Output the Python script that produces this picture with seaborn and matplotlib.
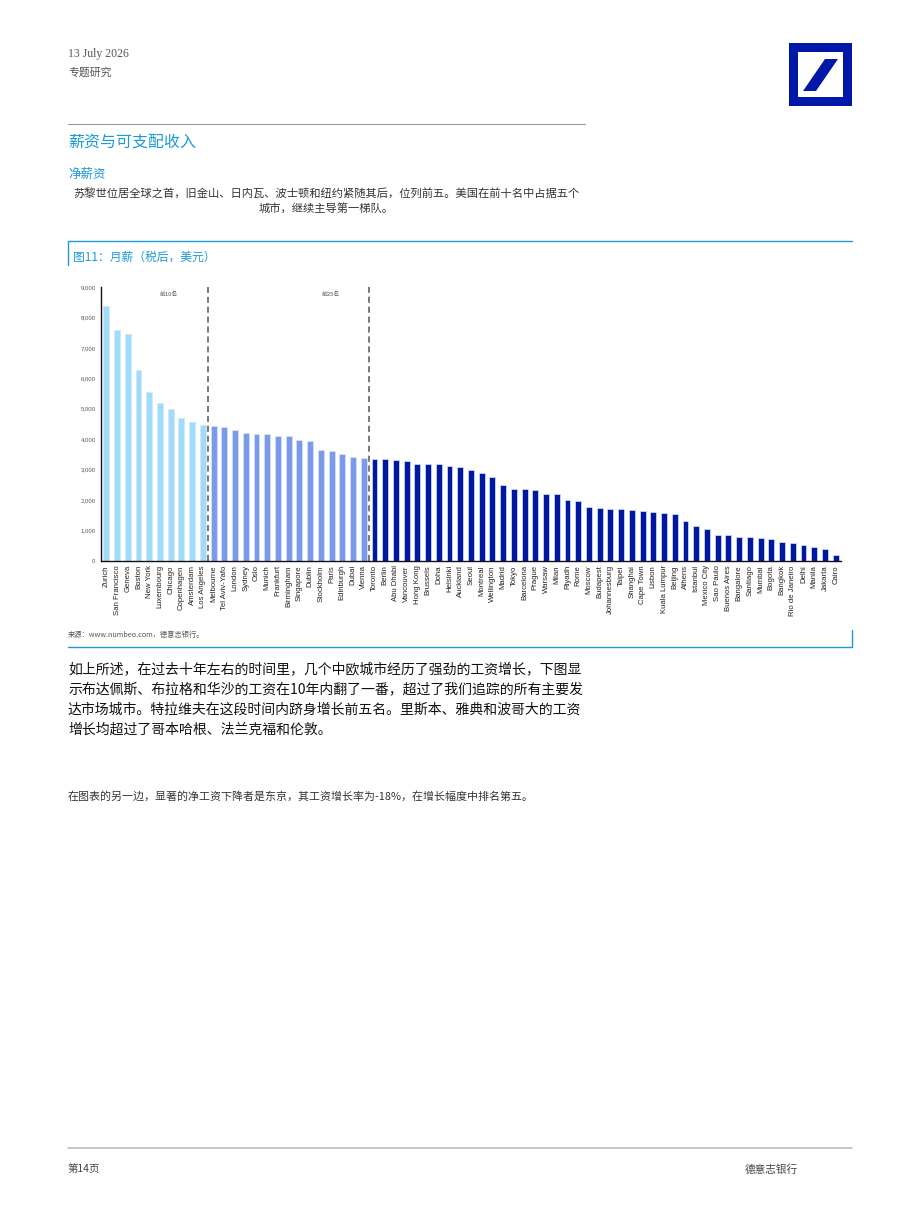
import matplotlib
matplotlib.use("Agg")
import matplotlib.pyplot as plt
import seaborn as sns
import pandas as pd
from matplotlib.patches import Rectangle, Polygon
from matplotlib.lines import Line2D
from matplotlib.ticker import FuncFormatter, FixedLocator

# données du graphique
cities = ["Zurich", "San Francisco", "Geneva", "Boston", "New York", "Luxembourg", "Chicago",
          "Copenhagen", "Amsterdam", "Los Angeles",
          "Melbourne", "Tel Aviv-Yafo", "London", "Sydney", "Oslo", "Munich", "Frankfurt",
          "Birmingham", "Singapore", "Dublin", "Stockholm", "Paris", "Edinburgh", "Dubai", "Vienna",
          "Toronto", "Berlin", "Abu Dhabi", "Vancouver", "Hong Kong", "Brussels", "Doha", "Helsinki",
          "Auckland", "Seoul", "Montreal", "Wellington", "Madrid", "Tokyo", "Barcelona", "Prague",
          "Warsaw", "Milan", "Riyadh", "Rome", "Moscow", "Budapest", "Johannesburg", "Taipei",
          "Shanghai", "Cape Town", "Lisbon", "Kuala Lumpur", "Beijing", "Athens", "Istanbul",
          "Mexico City", "Sao Paulo", "Buenos Aires", "Bangalore", "Santiago", "Mumbai", "Bogota",
          "Bangkok", "Rio de Janeiro", "Delhi", "Manila", "Jakarta", "Cairo"]
salaries = [8370, 7580, 7440, 6260, 5540, 5190, 4980, 4710, 4560, 4480,
            4420, 4400, 4290, 4190, 4180, 4170, 4120, 4100, 3970, 3950, 3650, 3620, 3500, 3410, 3380,
            3360, 3350, 3320, 3300, 3180, 3180, 3180, 3110, 3080, 2990, 2890, 2760, 2490, 2370, 2370,
            2330, 2210, 2210, 2020, 1980, 1780, 1750, 1720, 1720, 1690, 1640, 1600, 1570, 1550, 1310,
            1160, 1040, 850, 840, 790, 780, 770, 710, 610, 580, 520, 460, 410, 210]
groups = ["top10"] * 10 + ["top25"] * 15 + ["rest"] * 44
group_colors = {"top10": "#9fdcf9", "top25": "#7b9ae9", "rest": "#0018a0"}
yticks = [0, 1000, 2000, 3000, 4000, 5000, 6000, 7000, 8000, 9000]

df = pd.DataFrame({"city": cities, "salary": salaries, "group": groups})

W, H = 920, 1227
fig = plt.figure(figsize=(W / 100, H / 100), dpi=100)
sns.set_style("white")
plt.rcParams['font.family'] = ['Noto Sans CJK SC', 'DejaVu Sans']

def fx(x):
    return x / W

def fy(y):
    return 1 - y / H

blue = "#1a9ad6"

# en-tête
fig.text(fx(68), fy(54), "13 July 2026", family=["Liberation Serif"], fontsize=8.5, color="#555555", va="center")
fig.text(fx(68), fy(73), "专题研究", fontsize=7.8, color="#555555", va="center")
fig.add_artist(Line2D([fx(68), fx(585)], [fy(124), fy(124)], color="#999999", lw=0.8))
fig.text(fx(68), fy(142), "薪资与可支配收入", fontsize=11.5, color=blue, va="center")
fig.text(fx(68), fy(174), "净薪资", fontsize=9, color=blue, va="center")
fig.text(fx(326), fy(193), "苏黎世位居全球之首，旧金山、日内瓦、波士顿和纽约紧随其后，位列前五。美国在前十名中占据五个",
         fontsize=8.1, color="#333333", va="center", ha="center")
fig.text(fx(326), fy(209), "城市，继续主导第一梯队。", fontsize=8.1, color="#333333", va="center", ha="center")

# logo
fig.add_artist(Rectangle((fx(789), fy(106)), fx(63), 63 / H, color="#0018a8", lw=0))
fig.add_artist(Rectangle((fx(798), fy(97)), fx(45), 45 / H, color="white", lw=0))
fig.add_artist(Polygon([(fx(803), fy(91)), (fx(816), fy(91)), (fx(838), fy(59)), (fx(825), fy(59))],
                       closed=True, color="#0018a8", lw=0))

# cadre du graphique
fig.add_artist(Line2D([fx(68), fx(852)], [fy(241), fy(241)], color=blue, lw=1))
fig.add_artist(Line2D([fx(68), fx(68)], [fy(241), fy(265)], color=blue, lw=1))
fig.text(fx(73), fy(257), "图11：月薪（税后，美元）", fontsize=8.5, color=blue, va="center")
fig.text(fx(68), fy(635), "来源：www.numbeo.com，德意志银行。", fontsize=5.2, color="#555555", va="center")
fig.add_artist(Line2D([fx(68), fx(852)], [fy(647), fy(647)], color=blue, lw=1))
fig.add_artist(Line2D([fx(852), fx(852)], [fy(630), fy(647)], color=blue, lw=1))

# graphique
ax = fig.add_axes([fx(101), fy(561), (841 - 101) / W, (561 - 287) / H])
sns.barplot(data=df, x="city", y="salary", hue="group", palette=group_colors, dodge=False,
            saturation=1, width=0.55, edgecolor="#d6e4fa", linewidth=0.5, legend=False, ax=ax)
ax.set_xlim(-0.5, len(cities) - 0.5)
ax.set_ylim(0, 9000)
ax.set_yticks(yticks)
ax.yaxis.set_major_formatter(FuncFormatter(lambda v, p: f"{int(v):,}"))
ax.set_xlabel("")
ax.set_ylabel("")
ax.set_xticks(range(len(cities)))
ax.set_xticklabels(cities, rotation=90, family=["Liberation Sans"], fontsize=5.6, color="#222222")
ax.xaxis.set_minor_locator(FixedLocator([i + 0.5 for i in range(len(cities))]))
ax.tick_params(axis="x", which="major", length=0, pad=3)
ax.tick_params(axis="x", which="minor", length=2, width=0.5, color="#333333")
ax.tick_params(axis="y", length=2, width=0.6, labelsize=4.3, labelcolor="#555555", pad=2)
for lab in ax.get_yticklabels():
    lab.set_family(["Liberation Sans"])
for s in ["top", "right"]:
    ax.spines[s].set_visible(False)
ax.spines["left"].set_color("#111111")
ax.spines["bottom"].set_color("#111111")
ax.spines["left"].set_linewidth(1)
ax.spines["bottom"].set_linewidth(1)

for xpos in [9.5, 24.5]:
    ax.axvline(xpos, color="#555555", ls=(0, (4, 2.5)), lw=1.1)
ax.text(5.8, 8750, "前10名", fontsize=4.2, color="#555555", ha="center", va="center")
ax.text(20.9, 8750, "前25名", fontsize=4.2, color="#555555", ha="center", va="center")

# texte
body = ["如上所述，在过去十年左右的时间里，几个中欧城市经历了强劲的工资增长，下图显",
        "示布达佩斯、布拉格和华沙的工资在10年内翻了一番，超过了我们追踪的所有主要发",
        "达市场城市。特拉维夫在这段时间内跻身增长前五名。里斯本、雅典和波哥大的工资",
        "增长均超过了哥本哈根、法兰克福和伦敦。"]
for i, line in enumerate(body):
    fig.text(fx(68), fy(669 + i * 20.3), line, fontsize=10.0, color="#111111", va="center")
fig.text(fx(68), fy(796), "在图表的另一边，显著的净工资下降者是东京，其工资增长率为-18%，在增长幅度中排名第五。",
         fontsize=7.9, color="#333333", va="center")

# pied de page
fig.add_artist(Line2D([fx(68), fx(852)], [fy(1148), fy(1148)], color="#bbbbbb", lw=1.2))
fig.text(fx(68), fy(1169), "第14页", fontsize=7.5, color="#444444", va="center")
fig.text(fx(745), fy(1169), "德意志银行", fontsize=7.7, color="#444444", va="center")

fig.savefig("out.png", dpi=100)
